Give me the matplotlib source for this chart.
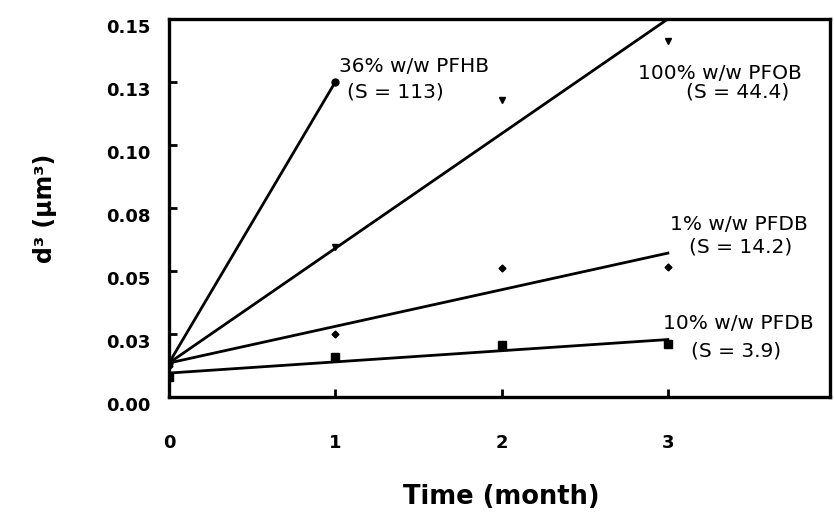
import matplotlib
matplotlib.use("Agg")
import matplotlib.pyplot as plt

# data
months = [0, 1, 2, 3]

pfhb_x = [0, 1]
pfhb_y = [0.0135, 0.125]
pfob_y = [0.014, 0.0596, 0.118, 0.1414]
pfdb1_y = [0.0123, 0.0249, 0.0513, 0.0517]
pfdb10_y = [0.0079, 0.016, 0.0206, 0.021]

# fitted lines (start at 0, end at last month)
pfhb_fit_x = [0, 1]
pfhb_fit_y = [0.0135, 0.125]
pfob_fit_y = [0.0135, 0.150]
pfdb1_fit_y = [0.0135, 0.0571]
pfdb10_fit_y = [0.0095, 0.0228]
fit_x = [0, 3]

labels = [
    ("36% w/w PFHB", "(S = 113)"),
    ("100% w/w PFOB", "(S = 44.4)"),
    ("1% w/w PFDB", "(S = 14.2)"),
    ("10% w/w PFDB", "(S = 3.9)"),
]

yticks = [0, 0.025, 0.05, 0.075, 0.10, 0.125, 0.15]
ytick_labels = ["0.00", "0.03", "0.05", "0.08", "0.10", "0.13", "0.15"]

plt.rcParams["font.family"] = "DejaVu Sans"

fig = plt.figure(figsize=(8.34, 5.12), dpi=100)
ax = fig.add_axes([169 / 834, 1 - 397 / 512, 661 / 834, 378 / 512])

lw = 2.0
ax.plot(pfhb_fit_x, pfhb_fit_y, color="black", lw=lw)
ax.plot(fit_x, pfob_fit_y, color="black", lw=lw)
ax.plot(fit_x, pfdb1_fit_y, color="black", lw=lw)
ax.plot(fit_x, pfdb10_fit_y, color="black", lw=lw)

ax.plot(pfhb_x, pfhb_y, "o", color="black", ms=5, ls="none")
ax.plot(months, pfob_y, "v", color="black", ms=5, ls="none")
ax.plot(months, pfdb1_y, "D", color="black", ms=3.5, ls="none")
ax.plot(months, pfdb10_y, "s", color="black", ms=6, ls="none")

ax.set_xlim(0, 3.975)
ax.set_ylim(0, 0.15)
ax.set_xticks(months)
ax.set_xticklabels([str(m) for m in months])
ax.set_yticks(yticks)
ax.set_yticklabels(ytick_labels)

ax.tick_params(axis="both", direction="in", length=6, width=2,
               labelsize=13)
ax.tick_params(axis="x", pad=27)
ax.tick_params(axis="y", pad=13)
for lab in ax.get_xticklabels() + ax.get_yticklabels():
    lab.set_fontweight("bold")
plt.setp(ax.get_yticklabels(), va="top")

for sp in ax.spines.values():
    sp.set_linewidth(2.4)

# annotations
ax.text(1.02, 0.1310, labels[0][0], fontsize=14.5, va="center")
ax.text(1.07, 0.1212, labels[0][1], fontsize=14.5, va="center")
ax.text(2.82, 0.1285, labels[1][0], fontsize=14.5, va="center")
ax.text(3.11, 0.1210, labels[1][1], fontsize=14.5, va="center")
ax.text(3.01, 0.0686, labels[2][0], fontsize=14.5, va="center")
ax.text(3.13, 0.0595, labels[2][1], fontsize=14.5, va="center")
ax.text(2.97, 0.0290, labels[3][0], fontsize=14.5, va="center")
ax.text(3.14, 0.0183, labels[3][1], fontsize=14.5, va="center")

ax.set_xlabel("Time (month)", fontsize=18.5, fontweight="bold")
ax.xaxis.set_label_coords(2 / 3.975, -0.265)
ax.xaxis.label.set_va("center")
ax.set_ylabel("d³ (µm³)", fontsize=17, fontweight="bold")
ax.yaxis.set_label_coords(-0.188, 0.5)
ax.yaxis.label.set_va("center")

fig.savefig("out.png", dpi=100)
